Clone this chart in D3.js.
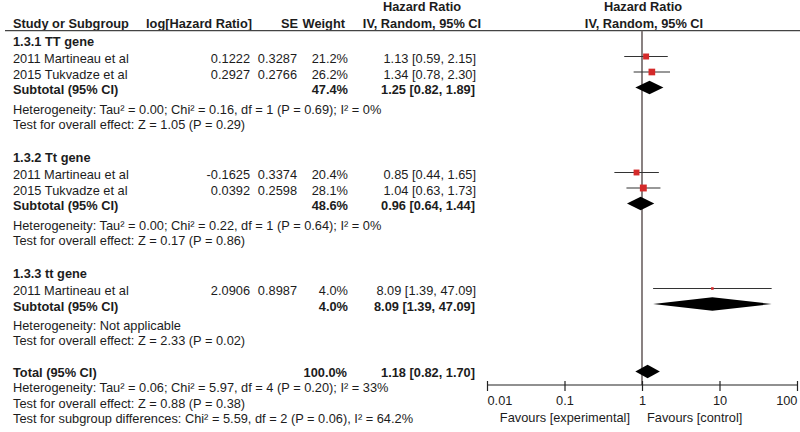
<!DOCTYPE html>
<html>
<head>
<meta charset="utf-8">
<script src="https://cdn.jsdelivr.net/npm/d3@7/dist/d3.min.js"></script>
<style>
  html, body { margin: 0; padding: 0; background: #fff; }
  svg { display: block; }
  text { font-family: "Liberation Sans", Arial, sans-serif; font-size: 12.8px; fill: #1c1c1c; }
  .b { font-weight: bold; }
</style>
</head>
<body>
<svg id="chart" width="800" height="432"></svg>
<script>
// ---------------- DATA ----------------
const groupNames = ["1.3.1 TT gene", "1.3.2 Tt gene", "1.3.3 tt gene"];

const studyNames = ["2011 Martineau et al", "2015 Tukvadze et al",
                    "2011 Martineau et al", "2015 Tukvadze et al",
                    "2011 Martineau et al"];
const studyGroup = [0, 0, 1, 1, 2];
const logHR   = [0.1222, 0.2927, -0.1625, 0.0392, 2.0906];
const seVals  = [0.3287, 0.2766, 0.3374, 0.2598, 0.8987];
const weights = [21.2, 26.2, 20.4, 28.1, 4.0];
const hrVals  = [1.13, 1.34, 0.85, 1.04, 8.09];
const ciLow   = [0.59, 0.78, 0.44, 0.63, 1.39];
const ciHigh  = [2.15, 2.30, 1.65, 1.73, 47.09];

const subWeights = [47.4, 48.6, 4.0];
const subHR      = [1.25, 0.96, 8.09];
const subLow     = [0.82, 0.64, 1.39];
const subHigh    = [1.89, 1.44, 47.09];
const subHet = [
  "Heterogeneity: Tau² = 0.00; Chi² = 0.16, df = 1 (P = 0.69); I² = 0%",
  "Heterogeneity: Tau² = 0.00; Chi² = 0.22, df = 1 (P = 0.64); I² = 0%",
  "Heterogeneity: Not applicable"
];
const subTest = [
  "Test for overall effect: Z = 1.05 (P = 0.29)",
  "Test for overall effect: Z = 0.17 (P = 0.86)",
  "Test for overall effect: Z = 2.33 (P = 0.02)"
];

const totalWeight = 100.0;
const totalHR = 1.18, totalLow = 0.82, totalHigh = 1.70;
const totalNotes = [
  "Heterogeneity: Tau² = 0.06; Chi² = 5.97, df = 4 (P = 0.20); I² = 33%",
  "Test for overall effect: Z = 0.88 (P = 0.38)",
  "Test for subgroup differences: Chi² = 5.59, df = 2 (P = 0.06), I² = 64.2%"
];

const tickValues = [0.01, 0.1, 1, 10, 100];
const tickLabels = ["0.01", "0.1", "1", "10", "100"];
const favoursLeft = "Favours [experimental]";
const favoursRight = "Favours [control]";

// ---------------- LAYOUT ----------------
const svg = d3.select("#chart");
const loc = d3.formatLocale({decimal: ".", thousands: ",", grouping: [3], currency: ["", ""], minus: "-"});
const f4 = loc.format(".4f"), f2 = loc.format(".2f"), f1 = loc.format(".1f");
const ciText = (h, l, u) => `${f2(h)} [${f2(l)}, ${f2(u)}]`;

// build rows
const rows = [];
groupNames.forEach((g, gi) => {
  rows.push({type: "group", text: g});
  studyNames.forEach((s, i) => {
    if (studyGroup[i] === gi) rows.push({type: "study", i});
  });
  rows.push({type: "subtotal", gi});
  rows.push({type: "het", text: subHet[gi]});
  rows.push({type: "test", text: subTest[gi]});
});
rows.push({type: "total"});
rows.push({type: "tnote", text: totalNotes[0]});
rows.push({type: "tnote", text: totalNotes[1]});
rows.push({type: "tnote", text: totalNotes[2]});

// baselines
let y = 45.5, prev = null;
rows.forEach((r, k) => {
  if (k > 0) {
    let gap = 15.5;
    if (r.type === "group") gap = 33;
    else if (r.type === "total") gap = 32;
    else if (r.type === "study" && prev === "group") gap = 17.5;
    else if (r.type === "het") gap = 19.5;
    else if (r.type === "test") gap = 15;
    else if (r.type === "tnote") gap = 15.3;
    y += gap;
  }
  r.y = y; prev = r.type;
});

// columns
const xName = 13, xLog = 250, xSE = 297, xW = 348, xCI = 476;
const x = d3.scaleLog().domain([0.01, 100]).range([487, 797]);
const axisY = 385, headerLineY = 30.7;
const markerOff = -6.5;
const red = "#d42a2a";

// headers
const hdr = svg.append("g");
hdr.append("text").attr("x", 422).attr("y", 11).attr("text-anchor", "middle").text("Hazard Ratio");
hdr.append("text").attr("x", 643).attr("y", 11).attr("text-anchor", "middle").text("Hazard Ratio");
hdr.append("text").attr("x", xName).attr("y", 27.5).text("Study or Subgroup");
hdr.append("text").attr("x", 252).attr("y", 27.5).attr("text-anchor", "end").text("log[Hazard Ratio]");
hdr.append("text").attr("x", 298).attr("y", 27.5).attr("text-anchor", "end").text("SE");
hdr.append("text").attr("x", 345).attr("y", 27.5).attr("text-anchor", "end").text("Weight");
hdr.append("text").attr("x", 422).attr("y", 27.5).attr("text-anchor", "middle").text("IV, Random, 95% CI");
hdr.append("text").attr("x", 644).attr("y", 27.5).attr("text-anchor", "middle").text("IV, Random, 95% CI");
hdr.selectAll("text").attr("class", "b");

svg.append("line").attr("x1", 5).attr("x2", 800).attr("y1", headerLineY).attr("y2", headerLineY)
  .attr("stroke", "#444").attr("stroke-width", 1.2);

// reference line
svg.append("line").attr("x1", x(1)).attr("x2", x(1)).attr("y1", headerLineY).attr("y2", axisY)
  .attr("stroke", "#7d7474").attr("stroke-width", 1.8);

const g = svg.append("g");
const diamond = (h, l, u, yc) => {
  const hh = 6.8;
  return `M${x(l)},${yc} L${x(h)},${yc - hh} L${x(u)},${yc} L${x(h)},${yc + hh} Z`;
};

rows.forEach(r => {
  if (r.type === "group") {
    g.append("text").attr("class", "b").attr("x", xName).attr("y", r.y).text(r.text);
  } else if (r.type === "study") {
    const i = r.i;
    g.append("text").attr("x", xName).attr("y", r.y).text(studyNames[i]);
    g.append("text").attr("x", xLog).attr("y", r.y).attr("text-anchor", "end").text(f4(logHR[i]));
    g.append("text").attr("x", xSE).attr("y", r.y).attr("text-anchor", "end").text(f4(seVals[i]));
    g.append("text").attr("x", xW).attr("y", r.y).attr("text-anchor", "end").text(f1(weights[i]) + "%");
    g.append("text").attr("x", xCI).attr("y", r.y).attr("text-anchor", "end").text(ciText(hrVals[i], ciLow[i], ciHigh[i]));
    const yc = r.y + markerOff;
    g.append("line").attr("x1", x(ciLow[i])).attr("x2", x(ciHigh[i])).attr("y1", yc).attr("y2", yc)
      .attr("stroke", "#333").attr("stroke-width", 1.2);
    const s = 1.3 * Math.sqrt(weights[i]);
    g.append("rect").attr("x", x(hrVals[i]) - s / 2).attr("y", yc - s / 2).attr("width", s).attr("height", s)
      .attr("fill", red);
  } else if (r.type === "subtotal") {
    const gi = r.gi;
    g.append("text").attr("class", "b").attr("x", xName).attr("y", r.y).text("Subtotal (95% CI)");
    g.append("text").attr("class", "b").attr("x", xW).attr("y", r.y).attr("text-anchor", "end").text(f1(subWeights[gi]) + "%");
    g.append("text").attr("class", "b").attr("x", xCI - 1).attr("y", r.y).attr("text-anchor", "end").text(ciText(subHR[gi], subLow[gi], subHigh[gi]));
    g.append("path").attr("d", diamond(subHR[gi], subLow[gi], subHigh[gi], r.y + markerOff)).attr("fill", "#000");
  } else if (r.type === "total") {
    g.append("text").attr("class", "b").attr("x", xName).attr("y", r.y).text("Total (95% CI)");
    g.append("text").attr("class", "b").attr("x", xW - 1).attr("y", r.y).attr("text-anchor", "end").text(f1(totalWeight) + "%");
    g.append("text").attr("class", "b").attr("x", xCI - 1).attr("y", r.y).attr("text-anchor", "end").text(ciText(totalHR, totalLow, totalHigh));
    g.append("path").attr("d", diamond(totalHR, totalLow, totalHigh, r.y + markerOff + 1)).attr("fill", "#000");
  } else {
    g.append("text").attr("x", xName).attr("y", r.y).text(r.text);
  }
});

// axis
const ax = svg.append("g").attr("transform", `translate(0,${axisY})`)
  .call(d3.axisBottom(x).tickValues(tickValues).tickFormat((d, i) => tickLabels[i]).tickSize(6).tickPadding(5));
ax.attr("font-family", null).attr("font-size", null);
ax.select(".domain").attr("stroke", "#222").attr("stroke-width", 1.2).attr("d", `M${x(0.01)},0H${x(100)}`);
ax.selectAll(".tick line").attr("stroke", "#222").attr("stroke-width", 1.2).attr("y1", -4).attr("y2", 6);
ax.selectAll(".tick text").attr("fill", "#1c1c1c")
  .attr("text-anchor", (d, i) => i === 0 ? "start" : (i === tickValues.length - 1 ? "end" : "middle"));

svg.append("text").attr("x", 630).attr("y", 421.5).attr("text-anchor", "end").text(favoursLeft);
svg.append("text").attr("x", 647).attr("y", 421.5).text(favoursRight);
</script>
</body>
</html>
